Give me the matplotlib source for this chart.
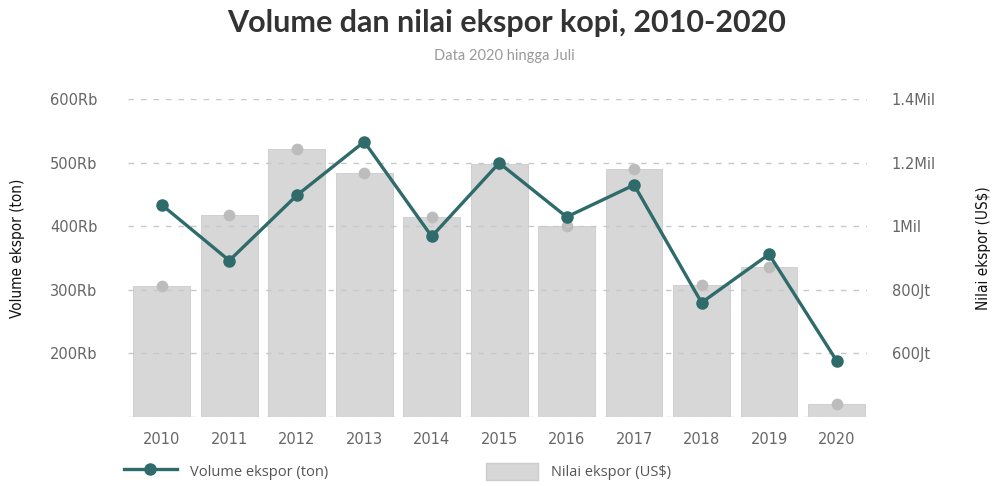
import numpy as np
import matplotlib.pyplot as plt
from matplotlib.lines import Line2D
from matplotlib.patches import Patch
import matplotlib as mpl

mpl.rcParams.update({'font.family': ['DejaVu Sans']})

# export data, 2020 only up to July
years = ['2010', '2011', '2012', '2013', '2014', '2015', '2016', '2017', '2018', '2019', '2020']
volume_ton = [433600, 346100, 448600, 533000, 384000, 499600, 414700, 465000, 279900, 356000, 188700]
nilai_usd = [812.5e6, 1034.7e6, 1244.3e6, 1166.2e6, 1030.7e6, 1194.6e6, 1001.3e6, 1180.6e6, 815.9e6, 872.3e6, 440.0e6]

vol_ticks = [200e3, 300e3, 400e3, 500e3, 600e3]
vol_labels = ['200Rb', '300Rb', '400Rb', '500Rb', '600Rb']
nilai_ticks = [600e6, 800e6, 1000e6, 1200e6, 1400e6]
nilai_labels = ['600Jt', '800Jt', '1Mil', '1.2Mil', '1.4Mil']

teal = '#2f6b6b'
bar_gray = '#d7d7d7'
dot_gray = '#bcbcbc'
tick_gray = '#666666'

fig = plt.figure(figsize=(9.93, 4.86), dpi=100)
ax = fig.add_axes([0.129, 0.142, 0.744, 0.654])
ax2 = ax.twinx()

x = np.arange(len(years))

# bars (value) on the right axis
ax2.bar(x, nilai_usd, width=0.84, color=bar_gray, edgecolor='#cccccc', linewidth=0.6, zorder=1)
ax2.scatter(x, nilai_usd, s=55, color=dot_gray, zorder=2)
ax2.set_ylim(400e6, 1400e6)
ax2.set_yticks(nilai_ticks)
ax2.set_yticklabels(nilai_labels)

# line (volume) on the left axis, drawn above the bars
ax.set_zorder(ax2.get_zorder() + 1)
ax.patch.set_visible(False)
ax.plot(x, volume_ton, color=teal, lw=2.4, marker='o', ms=8, zorder=4, clip_on=False)
ax.set_ylim(100e3, 600e3)
ax.set_yticks([100e3] + vol_ticks)
ax.set_yticklabels([''] + vol_labels)
ax.set_xlim(-0.5, 10.45)
ax.set_xticks(x)
ax.set_xticklabels(years)

ax.grid(axis='y', ls=(0, (4, 5)), color='#c8c8c8', lw=1.0, zorder=0)
ax.set_axisbelow(True)

for a in (ax, ax2):
    for s in a.spines.values():
        s.set_visible(False)
    a.tick_params(length=0, colors=tick_gray, labelsize=10.5)
ax.tick_params(axis='y', pad=22)
ax2.tick_params(axis='y', pad=18)
ax.tick_params(axis='x', pad=11)

fig.text(0.51, 0.952, 'Volume dan nilai ekspor kopi, 2010-2020', ha='center', va='center',
         fontsize=22, fontfamily='Lato', fontweight='bold', color='#333333')
fig.text(0.508, 0.885, 'Data 2020 hingga Juli', ha='center', va='center',
         fontsize=10.5, fontfamily='Lato', color='#999999')

fig.text(0.018, 0.49, 'Volume ekspor (ton)', rotation=90, ha='center', va='center',
         fontsize=11, fontstretch='condensed', color='#111111')
fig.text(0.99, 0.49, 'Nilai ekspor (US$)', rotation=90, ha='center', va='center',
         fontsize=11, fontstretch='condensed', color='#111111')

handles = [Line2D([0], [0], color=teal, lw=2.4, marker='o', ms=8),
           Patch(facecolor=bar_gray, edgecolor='#cccccc')]
leg = fig.legend(handles, ['Volume ekspor (ton)', 'Nilai ekspor (US$)'], loc='center left',
                 bbox_to_anchor=(0.125, 0.03), ncol=2, frameon=False,
                 handlelength=3.6, handleheight=1.5, columnspacing=10.8, handletextpad=0.9,
                 borderpad=0, borderaxespad=0, prop={'family': 'Open Sans', 'size': 10.5})
for t in leg.get_texts():
    t.set_color('#555555')

fig.savefig('out.png', dpi=100)
